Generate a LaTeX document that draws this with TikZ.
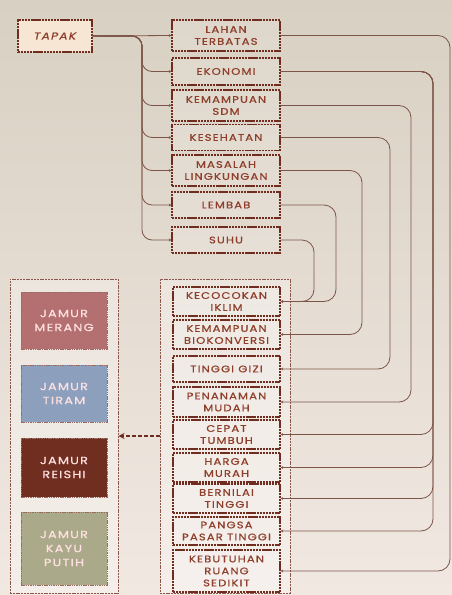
\documentclass[tikz,border=0pt]{standalone}
\usepackage{fontspec}
\setsansfont{Poppins}[LetterSpace=12, FakeBold=0.8, FakeStretch=1.22]
\usetikzlibrary{arrows.meta,positioning,calc}
\definecolor{kertasatas}{RGB}{216,208,194}
\definecolor{kertasbawah}{RGB}{241,232,226}
\definecolor{garis}{RGB}{112,44,30}
\definecolor{teks}{RGB}{142,62,42}
\definecolor{kabel}{RGB}{125,85,72}
\definecolor{merang}{RGB}{180,112,112}
\definecolor{tiram}{RGB}{140,160,190}
\definecolor{reishi}{RGB}{112,46,32}
\definecolor{kayuputih}{RGB}{170,170,138}
\tikzset{
  kotak/.style={
    rectangle,
    draw=garis, line width=1.4pt,
    dash pattern=on 2.2pt off 0.7pt,
    fill=white, fill opacity=0.15, text opacity=1,
    text=teks, align=center,
    font=\sffamily\fontsize{9.5}{12}\selectfont,
    inner sep=0pt},
  wadah/.style={
    rectangle,
    draw=garis!80, line width=1pt,
    dash pattern=on 2pt off 0.8pt,
    fill=white, fill opacity=0.3},
  jamur/.style={
    rectangle,
    draw=garis!70, line width=0.8pt,
    dash pattern=on 1.5pt off 0.8pt,
    text=white!88!red, align=center,
    font=\sffamily\fontsize{10.5}{14}\selectfont,
    minimum width=86pt, inner sep=0pt},
  link/.style={draw=kabel, line width=0.8pt, rounded corners=12pt,
    -{Stealth[length=2.5pt,width=3pt]}},
  cabang/.style={draw=kabel, line width=0.8pt, rounded corners=10pt,
    -{Stealth[length=2.5pt,width=3pt]}},
}

\begin{document}
\begin{tikzpicture}[x=1pt, y=-1pt]
    \useasboundingbox (0,0) rectangle (452,595);
    \shade[top color=kertasatas, bottom color=kertasbawah] (0,0) rectangle (452,595);

    % Containers
    \node[wadah, minimum width=108pt, minimum height=314pt] (kiri) at (64,436) {};
    \node[wadah, minimum width=130pt, minimum height=314pt] (kanan) at (225,436) {};

    % Tapak and factors
    \node[kotak, fill=white!85!orange, fill opacity=0.8, minimum width=74pt, minimum height=32pt,
          font=\sffamily\itshape\fontsize{10}{12}\selectfont] (tapak) at (55,36) {TAPAK};

    \node[kotak, minimum width=108pt, minimum height=31pt] (lahan) at (226,35.5) {LAHAN\\TERBATAS};
    \node[kotak, minimum width=108pt, minimum height=27pt] (ekonomi) at (226,71.5) {EKONOMI};
    \node[kotak, minimum width=108pt, minimum height=31pt] (sdm) at (226,105.5) {KEMAMPUAN\\SDM};
    \node[kotak, minimum width=108pt, minimum height=26pt] (sehat) at (226,137.5) {KESEHATAN};
    \node[kotak, minimum width=108pt, minimum height=31pt] (lingkungan) at (226,170.5) {MASALAH\\LINGKUNGAN};
    \node[kotak, minimum width=108pt, minimum height=26pt] (lembab) at (226,205) {LEMBAB};
    \node[kotak, minimum width=108pt, minimum height=26pt] (suhu) at (226,240) {SUHU};

    % Advantages
    \node[kotak, minimum width=107pt, minimum height=29pt] (iklim) at (226.5,301.5) {KECOCOKAN\\IKLIM};
    \node[kotak, minimum width=107pt, minimum height=29pt] (biokonversi) at (226.5,334.5) {KEMAMPUAN\\BIOKONVERSI};
    \node[kotak, minimum width=107pt, minimum height=26pt] (gizi) at (226.5,369) {TINGGI GIZI};
    \node[kotak, minimum width=107pt, minimum height=30pt] (tanam) at (226.5,402) {PENANAMAN\\MUDAH};
    \node[kotak, minimum width=107pt, minimum height=29pt] (tumbuh) at (226.5,434.5) {CEPAT\\TUMBUH};
    \node[kotak, minimum width=107pt, minimum height=29pt] (murah) at (226.5,467.5) {HARGA\\MURAH};
    \node[kotak, minimum width=107pt, minimum height=29pt] (bernilai) at (226.5,498.5) {BERNILAI\\TINGGI};
    \node[kotak, minimum width=107pt, minimum height=28pt] (pasar) at (226.5,531) {PANGSA\\PASAR TINGGI};
    \node[kotak, minimum width=107pt, minimum height=42pt] (ruang) at (226.5,571) {KEBUTUHAN\\RUANG\\SEDIKIT};

    % Mushrooms
    \node[jamur, fill=merang, minimum height=57pt] (jmerang) at (64,320.5) {JAMUR\\MERANG};
    \node[jamur, fill=tiram, minimum height=57pt] (jtiram) at (64,393.5) {JAMUR\\TIRAM};
    \node[jamur, fill=reishi, minimum height=59pt] (jreishi) at (64,467.5) {JAMUR\\REISHI};
    \node[jamur, fill=kayuputih, minimum height=73pt] (jkayu) at (64,548.5) {JAMUR\\KAYU\\PUTIH};

    % Trunk from tapak
    \coordinate (batang) at (142,36);
    \draw[cabang] (tapak.east) -- (lahan.west);
    \foreach \f in {ekonomi,sdm,sehat,lingkungan,lembab,suhu}
        \draw[cabang] (tapak.east) -- (batang) |- (\f.west);

    % Rails on the right
    \coordinate (rlahan) at (450,0);
    \coordinate (rekonomi) at (433,0);
    \coordinate (rsdm) at (411,0);
    \coordinate (rsehat) at (390,0);
    \coordinate (rlingk) at (362,0);
    \coordinate (rlembab) at (336,0);
    \coordinate (rsuhu) at (314,0);

    \draw[link] (lahan.east) -- (lahan.east -| rlahan) |- (ruang.east);
    \foreach \t in {tumbuh,murah,bernilai,pasar}
        \draw[link] (ekonomi.east) -- (ekonomi.east -| rekonomi) |- (\t.east);
    \draw[link] (sdm.east) -- (sdm.east -| rsdm) |- (tanam.east);
    \draw[link] (sehat.east) -- (sehat.east -| rsehat) |- (gizi.east);
    \draw[link] (lingkungan.east) -- (lingkungan.east -| rlingk) |- (biokonversi.east);
    \draw[link] (lembab.east) -- (lembab.east -| rlembab) |- (iklim.east);
    \draw[link] (suhu.east) -- (suhu.east -| rsuhu) |- (iklim.east);

    % To the mushrooms
    \draw[draw=garis, line width=1.6pt, dash pattern=on 4pt off 2pt,
          -{Stealth[length=6pt,width=6pt]}] (kanan.west) -- (kiri.east);
\end{tikzpicture}
\end{document}
